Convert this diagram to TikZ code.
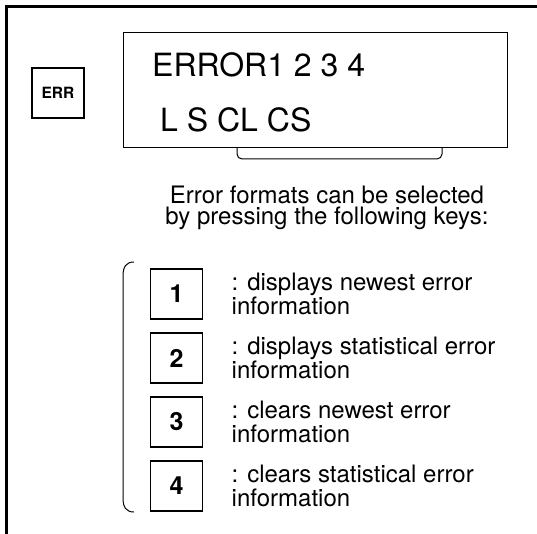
\documentclass[tikz,border=0pt]{standalone}
\usepackage{fontspec}
\setmainfont{TeX Gyre Heros}
\usetikzlibrary{positioning}
\tikzset{
	keybox/.style={draw, rectangle, line width=1.8pt, outer sep=0pt, minimum width=52pt, minimum height=50pt, inner sep=0pt, font=\bfseries\fontsize{25}{25}\selectfont},
	desc/.style={align=left, inner sep=0pt, font=\fontsize{24}{24}\selectfont}
}

\begin{document}
\begin{tikzpicture}[x=1pt, y=-1pt,
				frame/.style={line width=2.6pt},
				lcd/.style={
					draw, 
					rectangle, 
					line width=1pt,
					minimum width=384pt,
					minimum height=115pt,
					inner sep=0pt
				},
				lcdtext/.style={anchor=base west, inner sep=0pt, font=\fontsize{32}{32}\selectfont},
				errbox/.style={draw, rectangle, line width=1.3pt, minimum width=52pt, minimum height=50pt, inner sep=0pt, font=\bfseries\fontsize{15.5}{15.5}\selectfont},
				thinline/.style={line width=1pt}
				]
				\useasboundingbox (0,0) rectangle (537,534);
				
				% open frame, top and left only
				\draw[frame] (537,6.5) -- (6.5,6.5) -- (6.5,534);
				
				\node[errbox] (err) at (58,93) {ERR};
				\node[lcd] (lcd) at (315,90.5) {};
				\node[lcdtext] (row1) at (152,77) {ERROR1 2 3 4};
				\node[lcdtext] (row2) at (160,132) {L S CL CS};
				\draw[thinline, rounded corners=5pt] (237,148) -- (237,159) -- (442,159) -- (442,148);
				
				\node[align=center, inner sep=0pt, font=\fontsize{24}{21}\selectfont] (hint) at (327,208) {Error formats can be selected\\by pressing the following keys:};
				
				\node[keybox] (k1) at (176.5,294) {1};
				\node[keybox, below=14pt of k1] (k2) {2};
				\node[keybox, below=14pt of k2] (k3) {3};
				\node[keybox, below=14pt of k3] (k4) {4};
				
				\node[desc, right=29pt of k1] (d1) {: displays newest error\\information};
				\node[desc, right=29pt of k2] (d2) {: displays statistical error\\information};
				\node[desc, right=29pt of k3] (d3) {: clears newest error\\information};
				\node[desc, right=29pt of k4] (d4) {: clears statistical error\\information};
				
				% brace round the keys
				\draw[thinline] (134,262) .. controls (126,262) and (123,267) .. (123,276) -- (123,498) .. controls (123,507) and (126,512) .. (134,512);
				
			\end{tikzpicture}
\end{document}
